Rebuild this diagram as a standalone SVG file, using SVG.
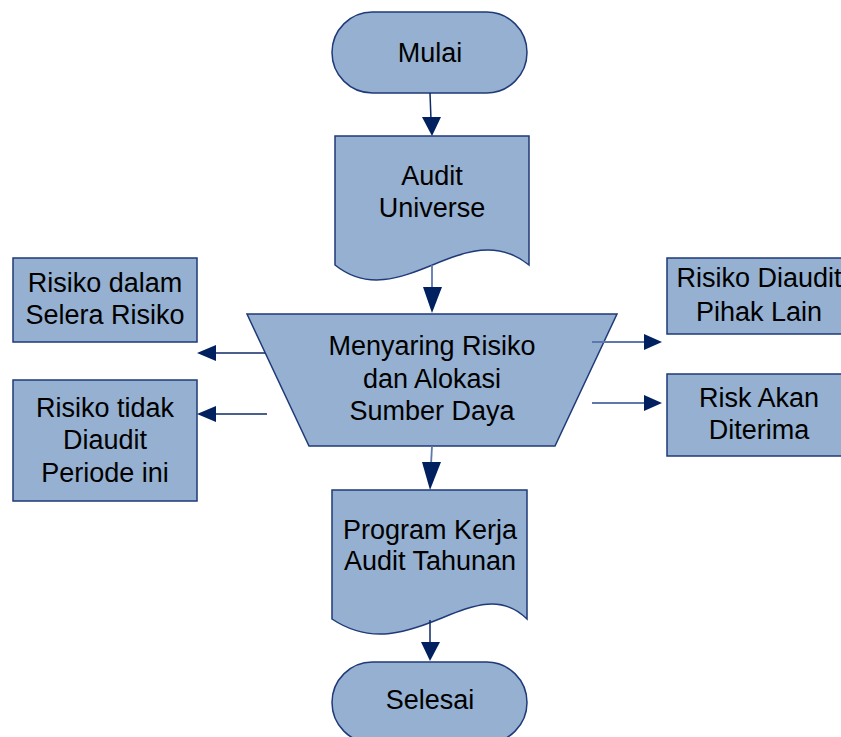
<svg xmlns="http://www.w3.org/2000/svg" width="841" height="737" viewBox="0 0 841 737">
<style>
.shape{fill:#95B0D0;stroke:#1F3A78;stroke-width:1.5}
.t{font-family:"Liberation Sans",Arial,sans-serif;font-size:27px;fill:#000;text-anchor:middle}
.ld{stroke:#0F2A66;stroke-width:1.5;fill:none}
.ll{stroke:#5C78AC;stroke-width:1.8;fill:none}
.ah{fill:#002060}
</style>
<rect width="841" height="737" fill="#fff"/>
<g id="mulai">
<rect class="shape" x="332" y="12" width="195" height="81" rx="40.5"/>
<text class="t" x="430" y="62">Mulai</text>
</g>
<g id="audit-universe">
<path class="shape" d="M335,136 H529 V265 C465,213 400,317 335,265 Z"/>
<text class="t" x="432" y="185">Audit</text>
<text class="t" x="432" y="217">Universe</text>
</g>
<g id="menyaring">
<path class="shape" d="M247,314 H617 L555,446 H309 Z"/>
<text class="t" x="432" y="355">Menyaring Risiko</text>
<text class="t" x="432" y="388">dan Alokasi</text>
<text class="t" x="432" y="420">Sumber Daya</text>
</g>
<g id="selera">
<rect class="shape" x="13" y="258" width="184" height="84"/>
<text class="t" x="105" y="292">Risiko dalam</text>
<text class="t" x="105" y="324">Selera Risiko</text>
</g>
<g id="tidak-diaudit">
<rect class="shape" x="13" y="380" width="184" height="121"/>
<text class="t" x="105" y="417">Risiko tidak</text>
<text class="t" x="105" y="449">Diaudit</text>
<text class="t" x="105" y="482">Periode ini</text>
</g>
<g id="pihak-lain">
<rect class="shape" x="667" y="258" width="184" height="76"/>
<text class="t" x="759" y="287">Risiko Diaudit</text>
<text class="t" x="759" y="321">Pihak Lain</text>
</g>
<g id="risk-akan">
<rect class="shape" x="667" y="374" width="184" height="82"/>
<text class="t" x="759" y="407">Risk Akan</text>
<text class="t" x="759" y="439">Diterima</text>
</g>
<g id="program-kerja">
<path class="shape" d="M332,490 H527 V619 C475,567 410,671 332,619 Z"/>
<text class="t" x="430" y="539">Program Kerja</text>
<text class="t" x="430" y="570">Audit Tahunan</text>
</g>
<g id="selesai">
<rect class="shape" x="332" y="662" width="195" height="81" rx="40.5"/>
<text class="t" x="430" y="709">Selesai</text>
</g>
<g id="connectors">
<line class="ld" x1="430" y1="93" x2="431" y2="120"/>
<polygon class="ah" points="422,117 441,117 432,136"/>
<line class="ll" x1="432" y1="265" x2="432" y2="290"/>
<polygon class="ah" points="423,287 442,287 432,313"/>
<line class="ll" x1="432" y1="446" x2="431" y2="465"/>
<polygon class="ah" points="422,462 441,462 430,490"/>
<line class="ld" x1="430" y1="620" x2="430" y2="645"/>
<polygon class="ah" points="421,642 440,642 430,661"/>
<line class="ld" x1="265" y1="353" x2="213" y2="353"/>
<polygon class="ah" points="216,345 216,361 197,353"/>
<line class="ld" x1="267" y1="414" x2="213" y2="414"/>
<polygon class="ah" points="216,406 216,422 197,414"/>
<line class="ll" x1="592" y1="342" x2="647" y2="342"/>
<polygon class="ah" points="644,334 644,350 662,342"/>
<line class="ll" x1="592" y1="403" x2="647" y2="403"/>
<polygon class="ah" points="644,395 644,411 662,403"/>
</g>
</svg>
